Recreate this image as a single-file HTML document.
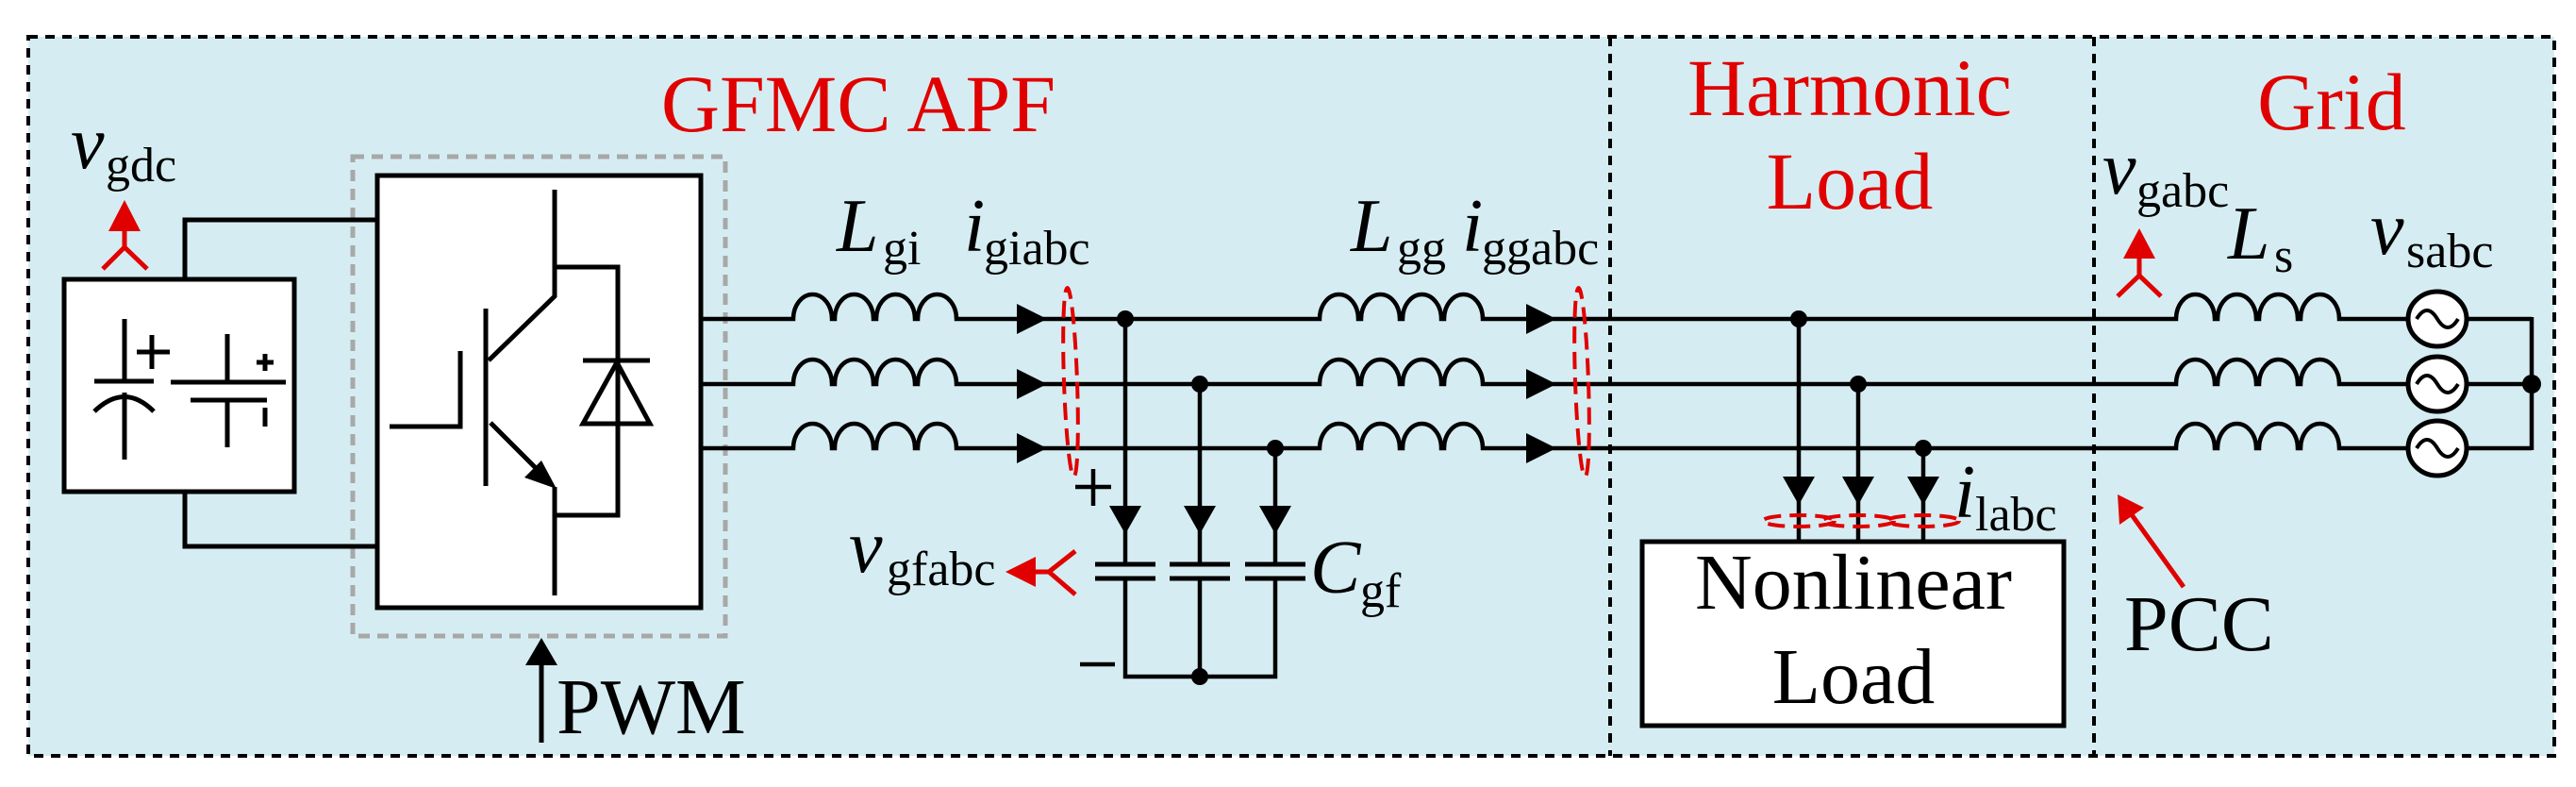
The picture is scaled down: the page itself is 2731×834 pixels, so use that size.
<!DOCTYPE html>
<html><head><meta charset="utf-8"><style>
html,body{margin:0;padding:0;background:#fff;}
svg{display:block;}
svg text{font-family:"Liberation Serif","DejaVu Serif","Times New Roman",serif;}
.i{font-style:italic;}
</style></head><body>
<svg width="2731" height="834" viewBox="0 0 2731 834" xmlns="http://www.w3.org/2000/svg" font-family="'Liberation Serif', 'DejaVu Serif', serif">
<rect x="30" y="39" width="2678" height="762" fill="#d5edf2"/>
<g fill="none" stroke="#000" stroke-width="4" stroke-dasharray="10,8">
<rect x="30" y="39" width="2678" height="762"/>
<line x1="1707" y1="39" x2="1707" y2="801"/>
<line x1="2220" y1="39" x2="2220" y2="801"/>
</g>
<rect x="374" y="166" width="395" height="508" fill="none" stroke="#a8a8a8" stroke-width="5" stroke-dasharray="12,8"/>
<rect x="68" y="296" width="244" height="225" fill="#fff" stroke="#000" stroke-width="5"/>
<g stroke="#000" stroke-width="5" fill="none">
<polyline points="196,296 196,233 400,233"/>
<polyline points="196,521 196,579 400,579"/>
<line x1="132" y1="338" x2="132" y2="404"/>
<line x1="100" y1="404" x2="163" y2="404"/>
<path d="M100,436 Q132,405 163,436"/>
<line x1="132" y1="416" x2="132" y2="487"/>
<line x1="145" y1="373" x2="180" y2="373"/><line x1="161" y1="355" x2="161" y2="391"/>
<line x1="241" y1="354" x2="241" y2="405"/>
<line x1="181" y1="405" x2="303" y2="405"/>
<line x1="202" y1="424" x2="283" y2="424"/>
<line x1="241" y1="424" x2="241" y2="474"/>
<line x1="272" y1="384" x2="290" y2="384"/><line x1="281" y1="375" x2="281" y2="393"/>
<line x1="281" y1="432" x2="281" y2="452"/>
</g>
<rect x="400" y="186" width="343" height="458" fill="#fff" stroke="#000" stroke-width="5"/>
<g stroke="#000" stroke-width="5" fill="none">
<polyline points="588,201 588,314 518,382"/>
<line x1="515" y1="327" x2="515" y2="515"/>
<polyline points="413,452 488,452 488,372"/>
<line x1="520" y1="448" x2="582" y2="510"/>
<line x1="588" y1="516" x2="588" y2="631"/>
<polyline points="588,283 655,283 655,546 588,546"/>
<line x1="618" y1="382" x2="689" y2="382"/>
<polygon points="618,449 689,449 654,384"/>
</g>
<polygon points="590,518 556,506 574,488" fill="#000"/>
<line x1="574" y1="787" x2="574" y2="700" stroke="#000" stroke-width="5"/>
<polygon points="574,676 557,705 591,705" fill="#000"/>
<text x="590" y="777" font-size="84">PWM</text>
<text x="75" y="178" font-size="80" class="i">v</text><text x="112" y="192" font-size="52">gdc</text>
<g stroke="#e00000" stroke-width="5" fill="none"><line x1="132" y1="240" x2="132" y2="262"/><polyline points="109,285 132,262 156,285"/></g>
<polygon points="132,212 115,245 149,245" fill="#e00000"/>
<g stroke="#000" stroke-width="4.5" fill="none">
<path d="M743,338 H841 a20.5,26 0 0 1 41,0 h3 a20.5,26 0 0 1 41,0 h3 a20.5,26 0 0 1 41,0 h3 a20.5,26 0 0 1 41,0 H1399 a20.5,26 0 0 1 41,0 h3 a20.5,26 0 0 1 41,0 h3 a20.5,26 0 0 1 41,0 h3 a20.5,26 0 0 1 41,0 H2307 a20.5,26 0 0 1 41,0 h3 a20.5,26 0 0 1 41,0 h3 a20.5,26 0 0 1 41,0 h3 a20.5,26 0 0 1 41,0 H2684"/>
<path d="M743,407 H841 a20.5,26 0 0 1 41,0 h3 a20.5,26 0 0 1 41,0 h3 a20.5,26 0 0 1 41,0 h3 a20.5,26 0 0 1 41,0 H1399 a20.5,26 0 0 1 41,0 h3 a20.5,26 0 0 1 41,0 h3 a20.5,26 0 0 1 41,0 h3 a20.5,26 0 0 1 41,0 H2307 a20.5,26 0 0 1 41,0 h3 a20.5,26 0 0 1 41,0 h3 a20.5,26 0 0 1 41,0 h3 a20.5,26 0 0 1 41,0 H2684"/>
<path d="M743,475 H841 a20.5,26 0 0 1 41,0 h3 a20.5,26 0 0 1 41,0 h3 a20.5,26 0 0 1 41,0 h3 a20.5,26 0 0 1 41,0 H1399 a20.5,26 0 0 1 41,0 h3 a20.5,26 0 0 1 41,0 h3 a20.5,26 0 0 1 41,0 h3 a20.5,26 0 0 1 41,0 H2307 a20.5,26 0 0 1 41,0 h3 a20.5,26 0 0 1 41,0 h3 a20.5,26 0 0 1 41,0 h3 a20.5,26 0 0 1 41,0 H2684"/>
<line x1="2684" y1="336" x2="2684" y2="477"/>
<line x1="1193" y1="338" x2="1193" y2="598"/>
<line x1="1272" y1="407" x2="1272" y2="598"/>
<line x1="1352" y1="475" x2="1352" y2="598"/>
<polyline points="1193,613 1193,717 1352,717 1352,613"/>
<line x1="1272" y1="613" x2="1272" y2="717"/>
<g stroke-width="5">
<line x1="1161" y1="598" x2="1225" y2="598"/><line x1="1161" y1="613" x2="1225" y2="613"/>
<line x1="1240" y1="598" x2="1304" y2="598"/><line x1="1240" y1="613" x2="1304" y2="613"/>
<line x1="1320" y1="598" x2="1384" y2="598"/><line x1="1320" y1="613" x2="1384" y2="613"/>
</g>
<line x1="1140" y1="516" x2="1178" y2="516"/><line x1="1159" y1="497" x2="1159" y2="536"/>
<line x1="1145" y1="704" x2="1182" y2="704"/>
<line x1="1907" y1="338" x2="1907" y2="574"/>
<line x1="1970" y1="407" x2="1970" y2="574"/>
<line x1="2039" y1="475" x2="2039" y2="574"/>
</g>
<g fill="#000">
<circle cx="1193" cy="338" r="9"/><circle cx="1272" cy="407" r="9"/><circle cx="1352" cy="475" r="9"/><circle cx="1272" cy="717" r="9"/>
<circle cx="1907" cy="338" r="9"/><circle cx="1970" cy="407" r="9"/><circle cx="2039" cy="475" r="9"/><circle cx="2684" cy="407" r="10"/>
<polygon points="1176,536 1210,536 1193,566"/><polygon points="1255,536 1289,536 1272,566"/><polygon points="1335,536 1369,536 1352,566"/>
<polygon points="1890,505 1924,505 1907,535"/><polygon points="1953,505 1987,505 1970,535"/><polygon points="2022,505 2056,505 2039,535"/>
<polygon points="1078,322 1078,354 1110,338"/><polygon points="1078,391 1078,423 1110,407"/><polygon points="1078,459 1078,491 1110,475"/>
<polygon points="1618,322 1618,354 1650,338"/><polygon points="1618,391 1618,423 1650,407"/><polygon points="1618,459 1618,491 1650,475"/>
</g>
<g stroke="#000" stroke-width="5" fill="#fff">
<ellipse cx="2584" cy="338" rx="31" ry="29"/><ellipse cx="2584" cy="407" rx="31" ry="29"/><ellipse cx="2584" cy="475" rx="31" ry="29"/>
</g>
<g stroke="#000" stroke-width="4" fill="none">
<path d="M2562,338 q11,-18 22,0 q11,18 22,0"/><path d="M2562,407 q11,-18 22,0 q11,18 22,0"/><path d="M2562,475 q11,-18 22,0 q11,18 22,0"/>
</g>
<g stroke="#e00000" stroke-width="4" fill="none" stroke-dasharray="18,9">
<ellipse cx="1135" cy="405" rx="7" ry="100" transform="rotate(-2 1135 405)"/>
<ellipse cx="1677" cy="405" rx="7" ry="100" transform="rotate(-2 1677 405)"/>
<ellipse cx="1907" cy="552" rx="38" ry="6"/><ellipse cx="1970" cy="552" rx="38" ry="6"/><ellipse cx="2039" cy="552" rx="38" ry="6"/>
</g>
<g stroke="#e00000" stroke-width="5" fill="none"><line x1="1090" y1="606" x2="1112" y2="606"/><polyline points="1140,584 1112,606 1140,630"/></g>
<polygon points="1066,606 1098,590 1098,622" fill="#e00000"/>
<g stroke="#e00000" stroke-width="5" fill="none"><line x1="2268" y1="268" x2="2268" y2="292"/><polyline points="2245,314 2268,292 2291,314"/></g>
<polygon points="2268,242 2251,274 2285,274" fill="#e00000"/>
<line x1="2315" y1="622" x2="2256" y2="540" stroke="#e00000" stroke-width="5"/>
<polygon points="2245,524 2247,556 2273,538" fill="#e00000"/>
<rect x="1741" y="574" width="447" height="195" fill="#fff" stroke="#000" stroke-width="5"/>
<text x="1965" y="645" font-size="84" text-anchor="middle">Nonlinear</text>
<text x="1965" y="745" font-size="84" text-anchor="middle">Load</text>
<g fill="#e00000" font-size="86">
<text x="910" y="139" text-anchor="middle">GFMC APF</text>
<text x="1961" y="122" text-anchor="middle">Harmonic</text>
<text x="1961" y="221" text-anchor="middle">Load</text>
<text x="2472" y="137" text-anchor="middle">Grid</text>
</g>
<text x="887" y="266" font-size="80" class="i">L</text><text x="936" y="280" font-size="52">gi</text>
<text x="1022" y="266" font-size="80" class="i">i</text><text x="1043" y="280" font-size="52">giabc</text>
<text x="1432" y="266" font-size="80" class="i">L</text><text x="1481" y="280" font-size="52">gg</text>
<text x="1550" y="266" font-size="80" class="i">i</text><text x="1571" y="280" font-size="52">ggabc</text>
<text x="900" y="606" font-size="80" class="i">v</text><text x="940" y="620" font-size="52">gfabc</text>
<text x="1389" y="628" font-size="80" class="i">C</text><text x="1442" y="643" font-size="52">gf</text>
<text x="2072" y="548" font-size="80" class="i">i</text><text x="2094" y="562" font-size="52">labc</text>
<text x="2252" y="689" font-size="84">PCC</text>
<text x="2229" y="205" font-size="80" class="i">v</text><text x="2265" y="219" font-size="52">gabc</text>
<text x="2362" y="274" font-size="80" class="i">L</text><text x="2411" y="288" font-size="52">s</text>
<text x="2513" y="269" font-size="80" class="i">v</text><text x="2551" y="283" font-size="52">sabc</text>
</svg>
</body></html>
